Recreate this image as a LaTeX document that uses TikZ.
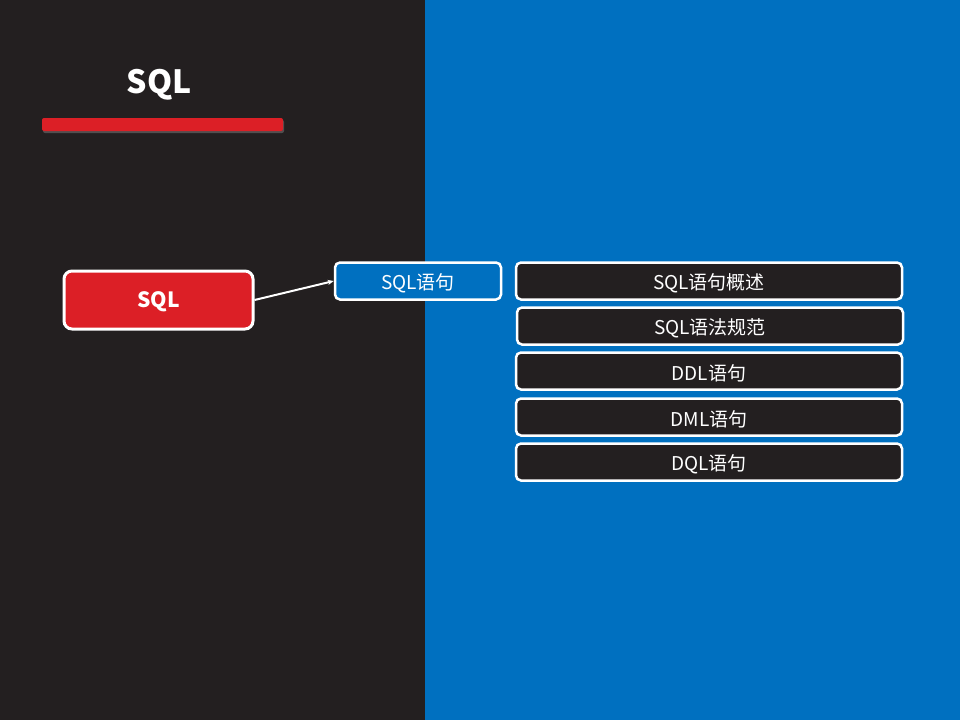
\documentclass[tikz,border=0pt]{standalone}
\usepackage{fontspec}
\setmainfont{Noto Sans CJK SC}
\usetikzlibrary{shadows,arrows.meta}
\definecolor{darkbg}{HTML}{231F20}
\definecolor{bluebg}{HTML}{0070C0}
\definecolor{redc}{HTML}{DC1F26}
\newcommand\lowtxt[1]{\raisebox{-2pt}[\height][\depth]{#1}}
\tikzset{
  box/.style={draw=white, line width=2.5pt, rounded corners=5pt, text=white, inner sep=0pt, font=\fontsize{19}{22}\selectfont},
  darkbox/.style={box, fill=darkbg, minimum width=386pt, minimum height=37pt},
}
\begin{document}
\begin{tikzpicture}[x=1pt,y=-1pt]
\useasboundingbox (0,0) rectangle (960,720);
\fill[darkbg] (0,0) rectangle (425,720);
\fill[bluebg] (425,0) rectangle (960,720);
\node[text=white, font=\bfseries\fontsize{32}{36}\selectfont] (title) at (159,85) {SQL};
\fill[redc, rounded corners=2pt, drop shadow={shadow xshift=1pt, shadow yshift=-2pt, opacity=0.5}] (42,118) rectangle (283,131);
\node[box, fill=redc, line width=3pt, rounded corners=8pt, minimum width=189pt, minimum height=58pt, font=\bfseries\fontsize{21}{24}\selectfont] (sql) at (158.5,300) {\lowtxt{SQL}};
\node[box, fill=bluebg, minimum width=166pt, minimum height=37pt] (stmt) at (418,281) {\lowtxt{SQL语句}};
\node[darkbox] (b1) at (709,281) {\lowtxt{SQL语句概述}};
\node[darkbox] (b2) at (710,326) {\lowtxt{SQL语法规范}};
\node[darkbox] (b3) at (709,371) {\lowtxt{DDL语句}};
\node[darkbox] (b4) at (709,417) {\lowtxt{DML语句}};
\node[darkbox] (b5) at (709,462) {\lowtxt{DQL语句}};
\draw[white, line width=2pt, -{Stealth[length=6pt,width=5pt]}] (sql.east) -- (stmt.west);
\end{tikzpicture}
\end{document}
